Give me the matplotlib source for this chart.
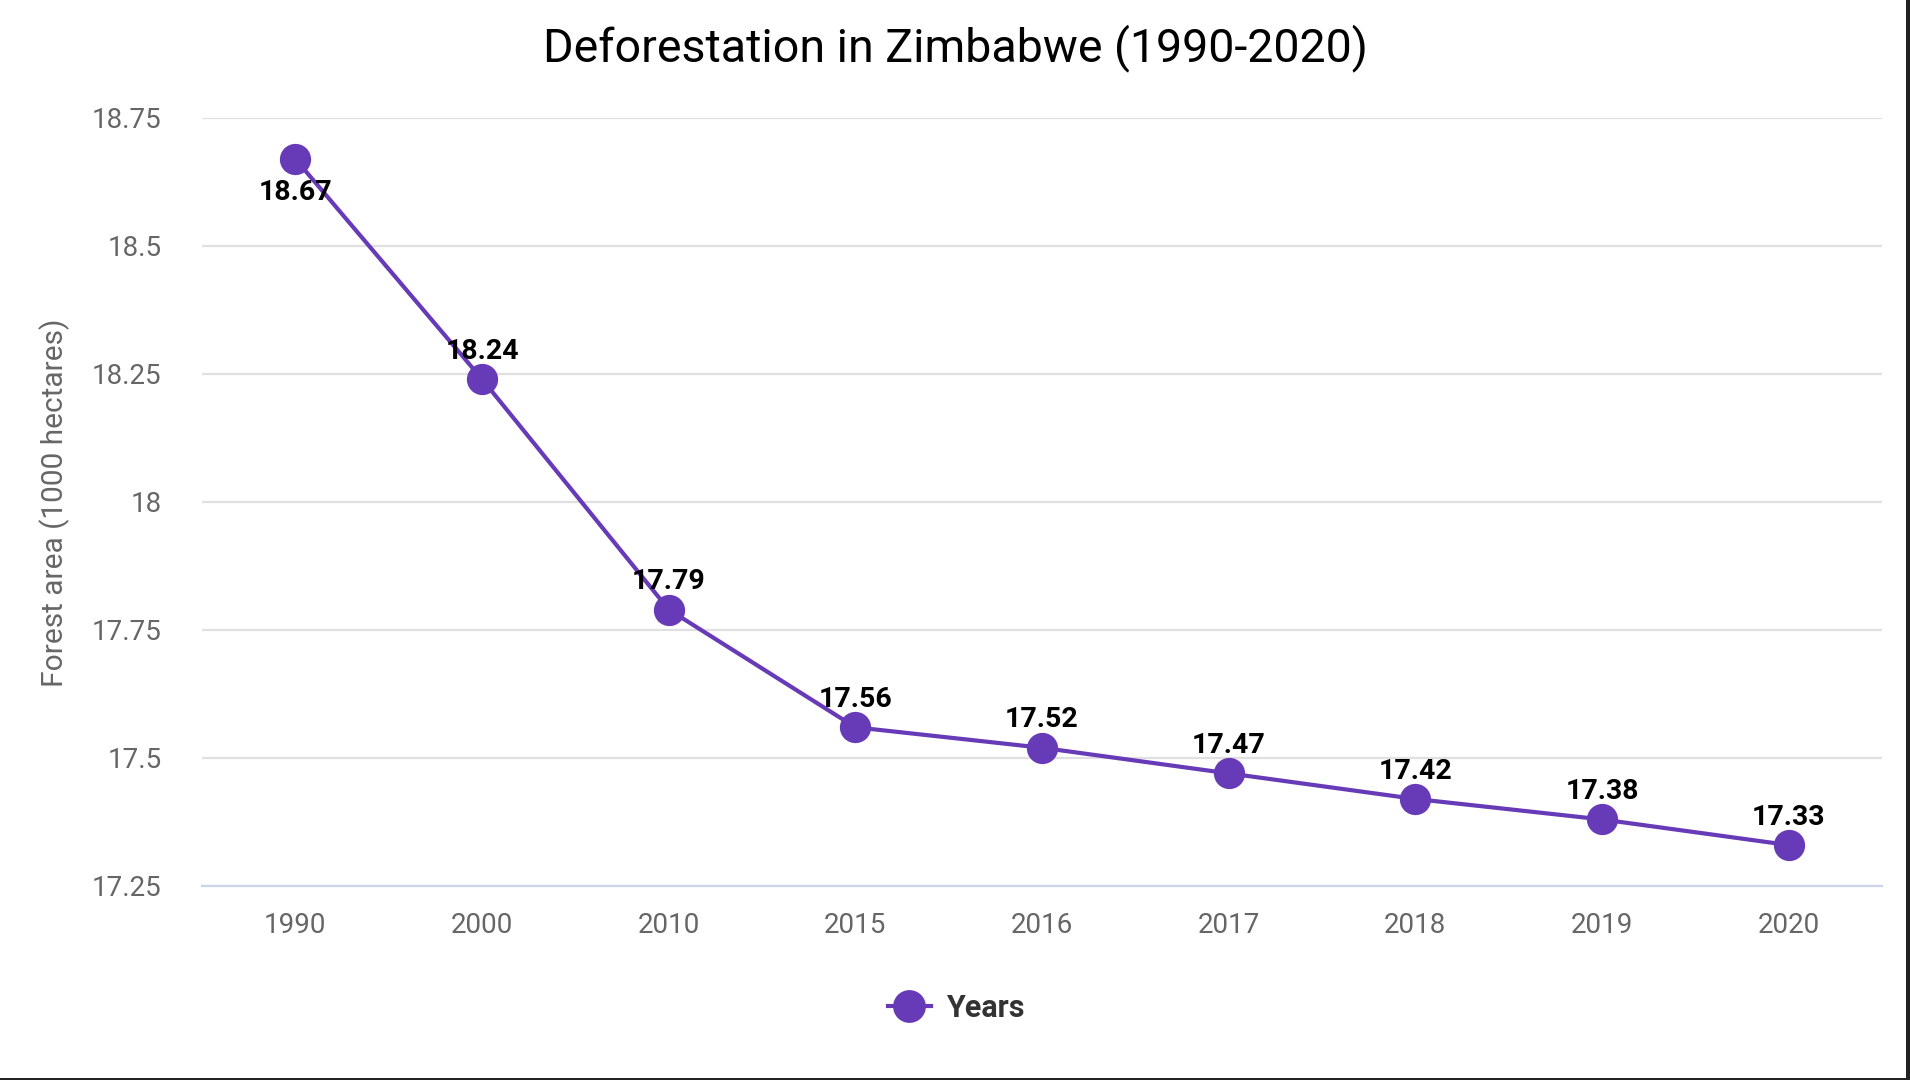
import matplotlib
matplotlib.use("Agg")
from matplotlib import pyplot as plt
from matplotlib.patches import Rectangle

years = ["1990", "2000", "2010", "2015", "2016", "2017", "2018", "2019", "2020"]
forest_area = [18.67, 18.24, 17.79, 17.56, 17.52, 17.47, 17.42, 17.38, 17.33]
y_ticks = [17.25, 17.5, 17.75, 18, 18.25, 18.5, 18.75]
y_tick_labels = ["17.25", "17.5", "17.75", "18", "18.25", "18.5", "18.75"]

purple = "#673AB7"
plt.rcParams["font.family"] = ["Roboto", "DejaVu Sans"]

fig = plt.figure(figsize=(19.1, 10.8), dpi=100)
ax = fig.add_axes([202/1910, 1 - 886/1080, (1882 - 202)/1910, (886 - 118)/1080])

x = range(len(years))
ax.plot(x, forest_area, color=purple, lw=3.0, marker="o", ms=22.5,
        markeredgewidth=0, label="Years", zorder=3)

# value labels: first one sits below the point, the rest above
for i, v in enumerate(forest_area):
    dy = -24 if i == 0 else 20
    ax.annotate(f"{v:.2f}", (i, v), xytext=(0, dy), textcoords="offset points",
                ha="center", va="center", fontsize=20.5, fontweight="bold",
                color="black", zorder=4)

ax.set_xlim(-0.5, len(years) - 0.5)
ax.set_ylim(17.25, 18.75)
ax.set_xticks(list(x))
ax.set_xticklabels(years)
ax.set_yticks(y_ticks)
ax.set_yticklabels(y_tick_labels)
ax.tick_params(axis="both", length=0, labelsize=20, colors="#666666")
ax.tick_params(axis="y", pad=29)
ax.tick_params(axis="x", pad=19)
ax.grid(axis="y", color="#e0e0e0", lw=1.6)
ax.set_axisbelow(True)
for s in ["top", "right", "left"]:
    ax.spines[s].set_visible(False)
ax.spines["bottom"].set_color("#ccd6eb")
ax.spines["bottom"].set_linewidth(1.6)

fig.text(0.5, 1 - 48/1080, "Deforestation in Zimbabwe (1990-2020)",
         ha="center", va="center", fontsize=33.5, color="black")
fig.text(55/1910, 1 - 503/1080, "Forest area (1000 hectares)", rotation=90,
         ha="center", va="center", fontsize=21.5, color="#666666")

leg = ax.legend(loc="center", bbox_to_anchor=(956/1910, 1 - 1008/1080),
                bbox_transform=fig.transFigure, frameon=False, handlelength=1.4,
                handletextpad=0.5, prop={"size": 22, "weight": "bold"},
                markerscale=1.05)
for t in leg.get_texts():
    t.set_color("#333333")

# thin dark frame on right and bottom edges
fig.add_artist(Rectangle((1906/1910, 0), 4/1910, 1, transform=fig.transFigure,
                         color="#222222", lw=0))
fig.add_artist(Rectangle((0, 0), 1, 2/1080, transform=fig.transFigure,
                         color="#222222", lw=0))

fig.savefig("out.png", dpi=100, facecolor="white")
